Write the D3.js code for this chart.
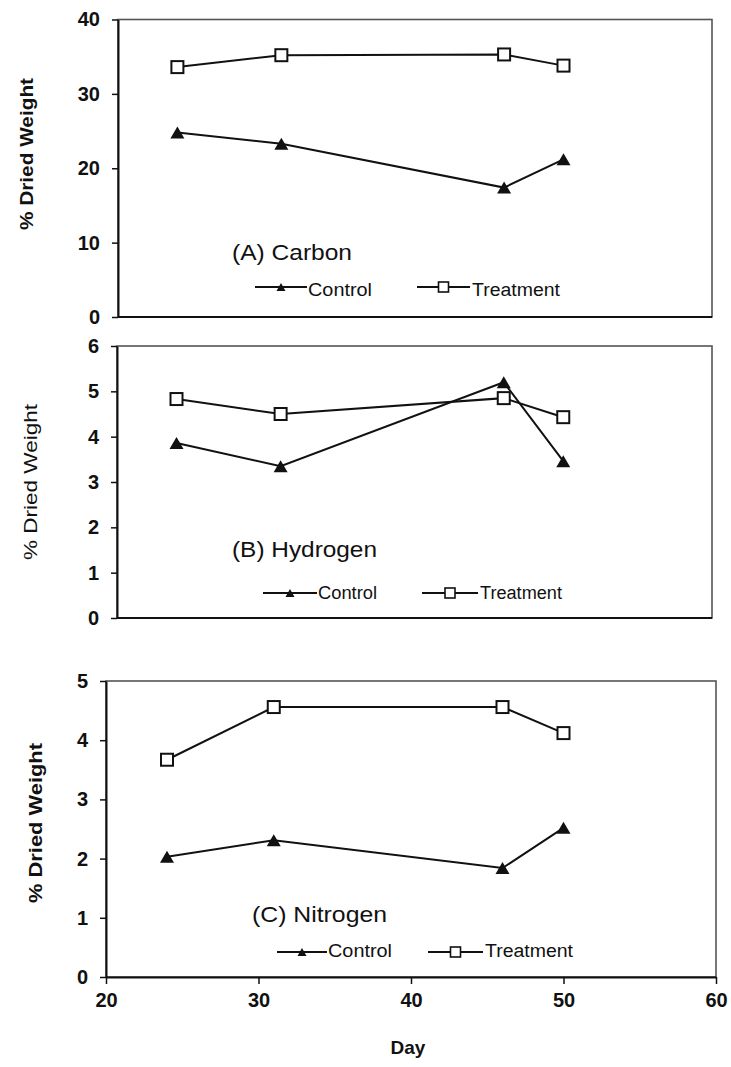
<!DOCTYPE html>
<html>
<head>
<meta charset="utf-8">
<script src="https://cdn.jsdelivr.net/npm/d3@7"></script>
<style>
  body { margin: 0; background: #ffffff; }
  svg { display: block; font-family: "Liberation Sans", Arial, sans-serif; }
</style>
</head>
<body>
<svg id="chart" width="731" height="1067"></svg>
<script>
// Sampling days
const days = [24, 31, 46, 50];

// % dried weight, per element and group
const carbonControl     = [24.8, 23.3, 17.4, 21.2];
const carbonTreatment   = [33.6, 35.2, 35.3, 33.8];
const hydrogenControl   = [3.86, 3.35, 5.2, 3.46];
const hydrogenTreatment = [4.83, 4.5, 4.85, 4.43];
const nitrogenControl   = [2.03, 2.31, 1.84, 2.52];
const nitrogenTreatment = [3.67, 4.56, 4.56, 4.12];

// Axis ticks
const dayTicks      = [20, 30, 40, 50, 60];
const carbonTicks   = [0, 10, 20, 30, 40];
const hydrogenTicks = [0, 1, 2, 3, 4, 5, 6];
const nitrogenTicks = [0, 1, 2, 3, 4, 5];

// Labels
const seriesNames = ["Control", "Treatment"];
const panelTitles = ["(A) Carbon", "(B) Hydrogen", "(C) Nitrogen"];
const yTitle = "% Dried Weight";
const xTitle = "Day";

// Panel layout (plot box, label placement)
const panels = [
  {
    title: panelTitles[0], control: carbonControl, treatment: carbonTreatment,
    ticks: carbonTicks, showX: false,
    box: { left: 118, top: 19.5, right: 712, bottom: 317 },
    yTitle: { x: 27, y: 154, len: 152, weight: "bold" },
    titlePos: { x: 232, y: 260, len: 120 },
    legend: { y: 287, base: 296,
      items: [ { x1: 255, x2: 307, tx: 308, len: 64 }, { x1: 417, x2: 470, tx: 472, len: 88 } ] }
  },
  {
    title: panelTitles[1], control: hydrogenControl, treatment: hydrogenTreatment,
    ticks: hydrogenTicks, showX: false,
    box: { left: 117, top: 346, right: 712, bottom: 618 },
    yTitle: { x: 31, y: 482, len: 156, weight: "normal" },
    titlePos: { x: 232, y: 557, len: 145 },
    legend: { y: 593, base: 599,
      items: [ { x1: 263, x2: 317, tx: 318, len: 59 }, { x1: 422, x2: 478, tx: 480, len: 82 } ] }
  },
  {
    title: panelTitles[2], control: nitrogenControl, treatment: nitrogenTreatment,
    ticks: nitrogenTicks, showX: true,
    box: { left: 106, top: 681, right: 716, bottom: 977 },
    yTitle: { x: 36, y: 823, len: 160, weight: "bold" },
    titlePos: { x: 252, y: 922, len: 135 },
    legend: { y: 952, base: 957,
      items: [ { x1: 277, x2: 327, tx: 328, len: 64 }, { x1: 428, x2: 483, tx: 485, len: 88 } ] }
  }
];

const svg = d3.select("#chart");
const ink = "#111";
const fmt = d3.format("d");

// Triangle marker centred on its bounding box
function triPath(w, h) {
  return `M0,${-h / 2}L${w / 2},${h / 2}L${-w / 2},${h / 2}Z`;
}

panels.forEach(p => {
  const b = p.box;
  const x = d3.scaleLinear().domain([20, 60]).range([b.left, b.right]);
  const y = d3.scaleLinear().domain([0, d3.max(p.ticks)]).range([b.bottom, b.top]);
  const g = svg.append("g");

  // Plot frame
  g.append("rect")
    .attr("x", b.left).attr("y", b.top)
    .attr("width", b.right - b.left).attr("height", b.bottom - b.top)
    .attr("fill", "none").attr("stroke", "#555").attr("stroke-width", 1.6);

  // Y axis
  const yAxis = g.append("g")
    .attr("transform", `translate(${b.left},0)`)
    .call(d3.axisLeft(y).tickValues(p.ticks).tickFormat(fmt)
      .tickSize(6).tickSizeOuter(0).tickPadding(12));
  yAxis.select(".domain").attr("stroke", ink).attr("stroke-width", 2);
  yAxis.selectAll(".tick line").attr("stroke", ink).attr("stroke-width", 1.5);
  yAxis.selectAll(".tick text")
    .attr("fill", ink).attr("font-size", 20).attr("font-weight", "bold")
    .attr("font-family", "Liberation Sans, Arial, sans-serif");

  // X axis (bottom edge)
  if (p.showX) {
    const xAxis = g.append("g")
      .attr("transform", `translate(0,${b.bottom})`)
      .call(d3.axisBottom(x).tickValues(dayTicks).tickFormat(fmt)
        .tickSize(7).tickSizeOuter(0).tickPadding(9));
    xAxis.select(".domain").attr("stroke", ink).attr("stroke-width", 2);
    xAxis.selectAll(".tick line").attr("stroke", ink).attr("stroke-width", 1.5);
    xAxis.selectAll(".tick text")
      .attr("fill", ink).attr("font-size", 20).attr("font-weight", "bold")
      .attr("font-family", "Liberation Sans, Arial, sans-serif");

    g.append("text")
      .attr("x", (b.left + b.right) / 2 - 3).attr("y", 1054)
      .attr("text-anchor", "middle")
      .attr("font-size", 19).attr("font-weight", "bold").attr("fill", ink)
      .text(xTitle);
  } else {
    g.append("line")
      .attr("x1", b.left).attr("x2", b.right)
      .attr("y1", b.bottom).attr("y2", b.bottom)
      .attr("stroke", ink).attr("stroke-width", 2);
  }

  // Y axis title
  g.append("text")
    .attr("transform", `translate(${p.yTitle.x},${p.yTitle.y}) rotate(-90)`)
    .attr("text-anchor", "middle").attr("dominant-baseline", "central")
    .attr("font-size", 18).attr("font-weight", p.yTitle.weight).attr("fill", ink)
    .attr("textLength", p.yTitle.len).attr("lengthAdjust", "spacingAndGlyphs")
    .text(yTitle);

  // Series lines
  const line = d3.line().x(d => x(d[0])).y(d => y(d[1]));
  const ctrl = days.map((d, i) => [d, p.control[i]]);
  const trt = days.map((d, i) => [d, p.treatment[i]]);

  g.append("path").datum(ctrl)
    .attr("d", line).attr("fill", "none").attr("stroke", ink).attr("stroke-width", 2);
  g.selectAll(".ctrl").data(ctrl).enter().append("path")
    .attr("class", "ctrl")
    .attr("transform", d => `translate(${x(d[0])},${y(d[1])})`)
    .attr("d", triPath(14, 12)).attr("fill", ink);

  g.append("path").datum(trt)
    .attr("d", line).attr("fill", "none").attr("stroke", ink).attr("stroke-width", 2);
  g.selectAll(".trt").data(trt).enter().append("rect")
    .attr("class", "trt")
    .attr("x", d => x(d[0]) - 6).attr("y", d => y(d[1]) - 6)
    .attr("width", 12).attr("height", 12)
    .attr("fill", "#fff").attr("stroke", ink).attr("stroke-width", 2);

  // Panel title
  g.append("text")
    .attr("x", p.titlePos.x).attr("y", p.titlePos.y)
    .attr("font-size", 22).attr("fill", ink)
    .attr("textLength", p.titlePos.len).attr("lengthAdjust", "spacingAndGlyphs")
    .text(p.title);

  // Legend
  p.legend.items.forEach((it, i) => {
    const lg = g.append("g");
    const mx = (it.x1 + it.x2) / 2;
    lg.append("line")
      .attr("x1", it.x1).attr("x2", it.x2)
      .attr("y1", p.legend.y).attr("y2", p.legend.y)
      .attr("stroke", ink).attr("stroke-width", 2);
    if (i === 0) {
      lg.append("path")
        .attr("transform", `translate(${mx},${p.legend.y})`)
        .attr("d", triPath(9, 8)).attr("fill", ink);
    } else {
      lg.append("rect")
        .attr("x", mx - 5).attr("y", p.legend.y - 5)
        .attr("width", 10).attr("height", 10)
        .attr("fill", "#fff").attr("stroke", ink).attr("stroke-width", 1.6);
    }
    lg.append("text")
      .attr("x", it.tx).attr("y", p.legend.base)
      .attr("font-size", 18).attr("fill", ink)
      .attr("textLength", it.len).attr("lengthAdjust", "spacingAndGlyphs")
      .text(seriesNames[i]);
  });
});
</script>
</body>
</html>
